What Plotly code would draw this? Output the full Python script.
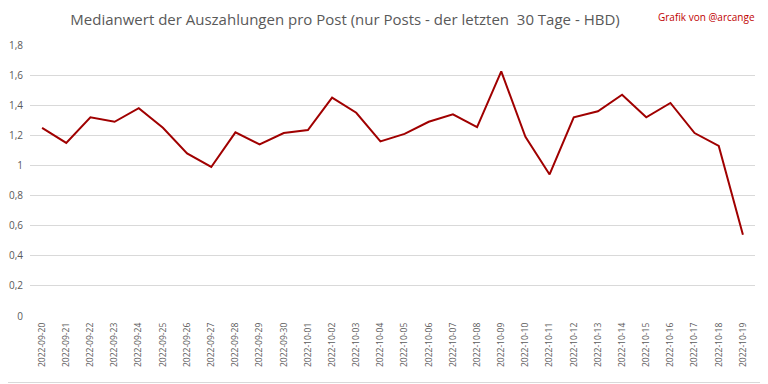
import plotly.graph_objects as go

dates = ["2022-09-20", "2022-09-21", "2022-09-22", "2022-09-23", "2022-09-24", "2022-09-25",
         "2022-09-26", "2022-09-27", "2022-09-28", "2022-09-29", "2022-09-30", "2022-10-01",
         "2022-10-02", "2022-10-03", "2022-10-04", "2022-10-05", "2022-10-06", "2022-10-07",
         "2022-10-08", "2022-10-09", "2022-10-10", "2022-10-11", "2022-10-12", "2022-10-13",
         "2022-10-14", "2022-10-15", "2022-10-16", "2022-10-17", "2022-10-18", "2022-10-19"]
median_hbd = [1.25, 1.15, 1.32, 1.29, 1.38, 1.25, 1.08, 0.99, 1.22, 1.14, 1.215, 1.235,
              1.45, 1.35, 1.16, 1.21, 1.29, 1.34, 1.255, 1.625, 1.19, 0.94, 1.32, 1.36,
              1.47, 1.32, 1.415, 1.215, 1.13, 0.54]
y_ticks = [0, 0.2, 0.4, 0.6, 0.8, 1, 1.2, 1.4, 1.6, 1.8]
y_tick_labels = ["0", "0,2", "0,4", "0,6", "0,8", "1", "1,2", "1,4", "1,6", "1,8"]

# page body has an 8px margin, so the figure is 8px smaller than the window
OFF = 8
W, H = 768 - OFF, 384 - OFF
ml, mr, mt, mb = 30 - OFF, 13, 45 - OFF, 68
pw, ph = W - ml - mr, H - mt - mb

fig = go.Figure()
fig.add_trace(go.Scatter(x=dates, y=median_hbd, mode="lines",
                         line=dict(color="#a00000", width=2)))

font = "Open Sans"
fig.update_layout(
    width=W, height=H,
    margin=dict(l=ml, r=mr, t=mt, b=mb),
    paper_bgcolor="white", plot_bgcolor="white",
    showlegend=False,
    font=dict(family=font, color="#595959", size=10),
    title=dict(text="Medianwert der Auszahlungen pro Post (nur Posts - der letzten  30 Tage - HBD)",
               x=(345 - OFF) / W, xanchor="center", y=1 - (20 - OFF) / H, yanchor="middle",
               font=dict(family=font, size=15, color="#595959")),
    xaxis=dict(type="category", range=[-0.5, len(dates) - 0.5], tickangle=-90,
               showgrid=False, showline=False, automargin=False,
               ticks="", ticklabelstandoff=4,
               tickfont=dict(size=8.5, color="#595959"), zeroline=False),
    yaxis=dict(range=[0, 1.8], tickvals=y_ticks, ticktext=y_tick_labels,
               showgrid=True, gridcolor="#d9d9d9", gridwidth=1, zeroline=False,
               showline=False, ticks="", ticklabelstandoff=6, automargin=False,
               tickfont=dict(size=10, color="#595959")),
    annotations=[dict(text="Grafik von @arcange", xref="paper", yref="paper",
                      x=(757 - OFF - ml) / pw, xanchor="right",
                      y=1 + (mt - (17 - OFF)) / ph, yanchor="middle",
                      showarrow=False, font=dict(family=font, size=10, color="#c00000"))],
    shapes=[
        dict(type="line", xref="paper", yref="paper",
             x0=1 + (mr - 1.5) / pw, x1=1 + (mr - 1.5) / pw,
             y0=-(mb - 1.5) / ph, y1=1 + mt / ph,
             line=dict(color="#d9d9d9", width=1), layer="below"),
        dict(type="line", xref="paper", yref="paper",
             x0=-ml / pw, x1=1 + (mr - 1.5) / pw,
             y0=-(mb - 1.5) / ph, y1=-(mb - 1.5) / ph,
             line=dict(color="#d9d9d9", width=1), layer="below"),
    ],
)

fig.write_html("out.html")
